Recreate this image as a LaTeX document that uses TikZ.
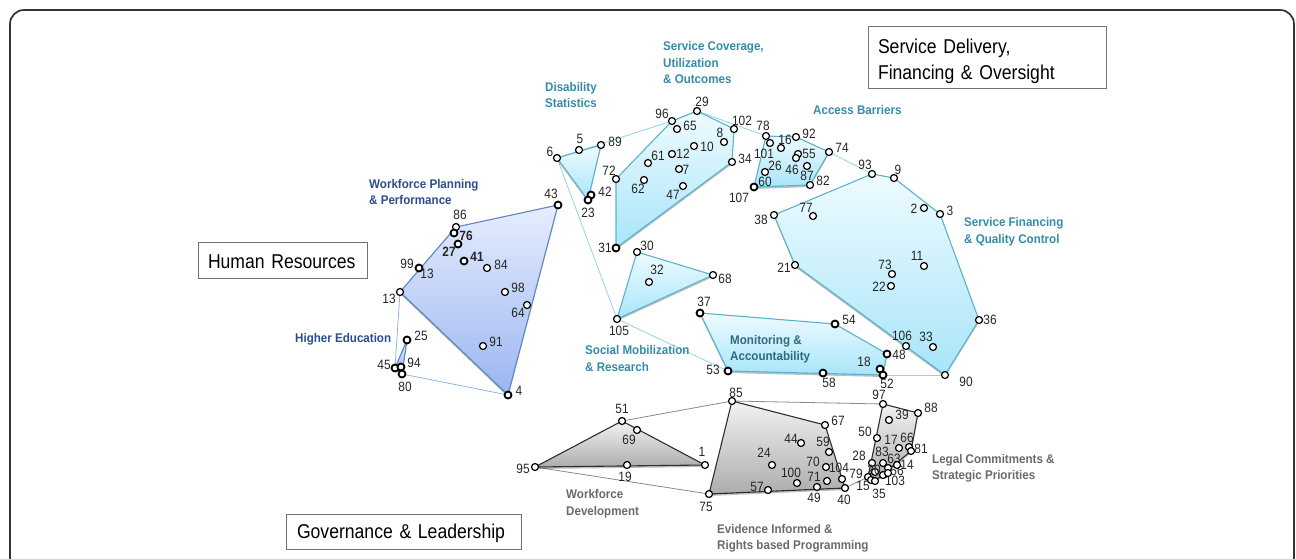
\documentclass[tikz,border=0pt]{standalone}
\usepackage{fontspec}
\setmainfont{Liberation Sans}
\newfontfamily\narrowf[FakeStretch=0.88]{Liberation Sans}
\newfontfamily\titlef[FakeStretch=0.88,WordSpace=0.65]{Liberation Sans}
\newfontfamily\catf[FakeStretch=0.92]{Liberation Sans}
\usetikzlibrary{backgrounds,shadows}
\definecolor{hrline}{HTML}{5B86BF}
\definecolor{cyline}{HTML}{5AB2CC}
\definecolor{grline}{HTML}{2E2E2E}
\definecolor{tealtxt}{HTML}{348CA8}
\definecolor{bluetxt}{HTML}{2B4F8A}
\definecolor{greytxt}{HTML}{6A6A6A}
\definecolor{darktxt}{HTML}{2D6A80}
\definecolor{hrtop}{HTML}{E6EDFE}
\definecolor{hrbot}{HTML}{9AB6F0}
\definecolor{cytop}{HTML}{EEFBFF}
\definecolor{cybot}{HTML}{A8E5F9}
\definecolor{grtop}{HTML}{F2F2F2}
\definecolor{grbot}{HTML}{ADADAD}
\definecolor{hrlk}{HTML}{93B4E4}
\definecolor{cylk}{HTML}{93D4E3}
\definecolor{grlk}{HTML}{8A8A8A}
\tikzset{
  x=1pt,y=-1pt,
  pt/.style={circle,draw=black,fill=white,line width=1.2pt,minimum size=7pt,inner sep=0pt},
  ptb/.style={pt,line width=1.8pt},
  lab/.style={inner sep=0pt,font=\narrowf\fontsize{13.5}{13.5}\selectfont,text=black!85},
  labb/.style={lab,font=\narrowf\fontsize{13.5}{13.5}\bfseries\selectfont},
  soft/.style={drop shadow={shadow xshift=0pt,shadow yshift=-2pt,opacity=.25,fill=black}},
  hrshade/.style={soft,draw=hrline,line width=1.1pt,line join=round,top color=hrtop,bottom color=hrbot},
  cypoly/.style={soft,draw=cyline,line width=1.1pt,line join=round,top color=cytop,bottom color=cybot},
  grpoly/.style={soft,draw=grline,line width=1.1pt,line join=round,top color=grtop,bottom color=grbot},
  hrlink/.style={draw=hrlk,line width=.8pt},
  cylink/.style={draw=cylk,line width=.8pt},
  grlink/.style={draw=grlk,line width=.8pt},
  cat/.style={anchor=west,align=left,inner sep=0pt,font=\catf\fontsize{12.6}{16.5}\bfseries\selectfont},
  titlebox/.style={draw=black!55,line width=.7pt,fill=white,inner sep=0pt,font=\titlef\fontsize{20}{26}\selectfont,align=left},
}
\begin{document}
\begin{tikzpicture}
\useasboundingbox (0,0) rectangle (1296,558);
\draw[line width=1.7pt,draw=black!80,rounded corners=14pt] (10,560) -- (10,10) -- (1294,10) -- (1294,560);

% points and their numbers: name / x / y / label x / label y
\foreach \n/\x/\y/\a/\b in {
 86/456/227/460/215, 84/487/268/501/265, 98/505/292/518/288, 64/527/305/518/313, 91/483/346/496/342, 13/400/292/389/299,
 6/557/158/550/152, 5/579/150/580/139, 89/601/145/615/142, 72/616/179/609/171, 96/672/121/662/114, 65/677/129/690/126, 29/697/111/702/102,
 102/734/129/742/121, 8/724/142/720/133, 34/732/162/745/159, 10/694/146/707/147, 12/672/154/683/154, 61/648/163/658/156, 7/679/169/686/170, 62/644/180/638/189, 47/683/186/673/195,
 30/637/252/647/246, 68/713/275/725/279, 32/649/282/657/270, 105/617/319/619/331,
 78/766/136/763/126, 92/796/137/809/134, 74/829/152/842/148, 16/781/148/785/140, 101/770/143/764/154, 55/798/154/809/154, 46/796/158/792/170, 87/807/166/807/176, 82/810/185/823/181, 26/765/172/775/166,
 93/872/174/865/165, 9/894/178/898/170, 3/940/214/950/211, 2/924/208/914/209, 36/979/320/990/320, 90/945/375/966/382, 21/795/265/784/268, 38/774/215/761/220, 77/813/216/806/208, 11/924/266/917/256, 73/892/274/885/265, 22/891/286/879/287, 106/906/346/902/336, 33/933/347/926/337,
 51/622/421/622/409, 69/637/430/629/440, 1/705/465/702/452, 19/627/465/625/477, 95/535/467/523/469, 75/709/494/706/507,
 85/732/401/736/393, 67/825/425/838/421, 44/801/443/791/439, 59/829/452/823/442, 24/772/465/764/453, 70/826/467/813/462, 104/842/479/839/468, 100/797/483/791/473, 71/827/481/814/477, 57/768/490/757/487, 49/817/487/814/498, 40/845/488/844/500,
 97/883/404/879/395, 88/918/413/931/408, 39/889/420/902/415, 50/877/438/865/432, 17/899/448/891/440, 66/909/447/907/438, 81/911/451/921/449, 28/872/463/859/456, 83/883/463/882/452, 63/888/468/894/459, 79/868/477/856/474, 20/875/472/874/470, 15/871/480/863/486, 35/875/481/879/494, 103/883/475/895/481, 56/888/473/897/471, 14/897/465/907/465}
{ \node[pt] (p\n) at (\x,\y) {}; \node[lab] (l\n) at (\a,\b) {\n}; }
\foreach \n/\x/\y/\a/\b in {
 43/558/205/551/194, 4/508/395/519/391, 25/407/340/421/336, 45/395/368/384/365, 94/401/367/414/363, 80/402/374/405/387,
 42/591/195/605/192, 23/588/200/588/213, 31/616/248/605/248, 37/700/313/704/302, 54/835/324/849/320, 48/887/354/899/355, 18/880/369/864/362, 52/883/375/887/384, 58/823/373/829/383, 53/728/371/713/370, 60/754/187/765/182}
{ \node[ptb] (p\n) at (\x,\y) {}; \node[lab] (l\n) at (\a,\b) {\n}; }
\node[ptb] (p99) at (419,268) {}; \node[lab] (l99) at (407,264) {99}; \node[lab] (l99b) at (427,274) {13};
\node[ptb] (p76) at (454,233) {}; \node[labb] (l76) at (466,236) {76};
\node[ptb] (p27) at (458,244) {}; \node[labb] (l27) at (449,252) {27};
\node[ptb] (p41) at (464,261) {}; \node[labb] (l41) at (477,257) {41};
\node[lab] (l107) at (739,198) {107};

\begin{scope}[on background layer]
  % thin links between the clusters
  \path[hrlink] (p13.center) -- (p45.center);
  \path[hrlink] (p80.center) -- (p4.center);
  \path[cylink] (p6.center) -- (p96.center);
  \path[cylink] (p6.center) -- (p105.center);
  \path[cylink] (p105.center) -- (p53.center);
  \path[cylink] (p29.center) -- (p78.center);
  \path[cylink] (p74.center) -- (p93.center);
  \path[cylink] (p52.center) -- (p90.center);
  \path[grlink] (p51.center) -- (p85.center);
  \path[grlink] (p95.center) -- (p75.center);
  \path[grlink] (p85.center) -- (p97.center);
  \path[grlink] (p40.center) -- (p79.center);
  % clusters
  \path[hrshade] (p43.center) -- (p4.center) -- (p13.center) -- (p86.center) -- cycle;
  \path[hrshade] (p25.center) -- (p45.center) -- (p80.center) -- cycle;
  \path[cypoly] (p6.center) -- (p89.center) -- (p23.center) -- cycle;
  \path[cypoly] (p72.center) -- (p96.center) -- (p29.center) -- (p102.center) -- (p34.center) -- (p31.center) -- cycle;
  \path[cypoly] (p30.center) -- (p68.center) -- (p105.center) -- cycle;
  \path[cypoly] (p78.center) -- (p92.center) -- (p74.center) -- (p82.center) -- (p60.center) -- cycle;
  \path[cypoly] (p93.center) -- (p9.center) -- (p3.center) -- (p36.center) -- (p90.center) -- (p21.center) -- (p38.center) -- cycle;
  \path[cypoly] (p37.center) -- (p54.center) -- (p48.center) -- (p52.center) -- (p53.center) -- cycle;
  \path[grpoly] (p51.center) -- (p1.center) -- (p95.center) -- cycle;
  \path[grpoly] (p85.center) -- (p67.center) -- (p40.center) -- (p75.center) -- cycle;
  \path[grpoly] (p97.center) -- (p88.center) -- (p81.center) -- (p35.center) -- (p79.center) -- cycle;
\end{scope}

% cluster names
\node[cat,text=bluetxt] (cWP) at (369,192) {Workforce Planning\\\& Performance};
\node[cat,text=bluetxt] (cHE) at (295,339) {Higher Education};
\node[cat,text=tealtxt] (cDS) at (545,95) {Disability\\Statistics};
\node[cat,text=tealtxt] (cSC) at (663,62.5) {Service Coverage,\\Utilization\\\& Outcomes};
\node[cat,text=tealtxt] (cAB) at (813,110) {Access Barriers};
\node[cat,text=tealtxt] (cSF) at (964,231.5) {Service Financing\\\& Quality Control};
\node[cat,text=tealtxt] (cSM) at (585,358.5) {Social Mobilization\\\& Research};
\node[cat,text=darktxt] (cMA) at (730,349) {Monitoring \&\\Accountability};
\node[cat,text=greytxt] (cWD) at (566,503.5) {Workforce\\Development};
\node[cat,text=greytxt] (cEI) at (717,538.5) {Evidence Informed \&\\Rights based Programming};
\node[cat,text=greytxt] (cLC) at (932,468.5) {Legal Commitments \&\\Strategic Priorities};

% title boxes
\node[titlebox,minimum width=169pt,minimum height=36pt,text width=149pt] (tHR) at (282.5,260) {\mbox{\rule{0pt}{16.5pt}Human Resources}};
\node[titlebox,minimum width=238pt,minimum height=62pt,text width=218pt] (tSD) at (987,57) {\rule{0pt}{24pt}Service Delivery,\\Financing \& Oversight};
\node[titlebox,minimum width=235pt,minimum height=35pt,text width=213pt] (tGL) at (403.5,531.5) {\rule{0pt}{18pt}Governance \& Leadership};
\end{tikzpicture}
\end{document}
